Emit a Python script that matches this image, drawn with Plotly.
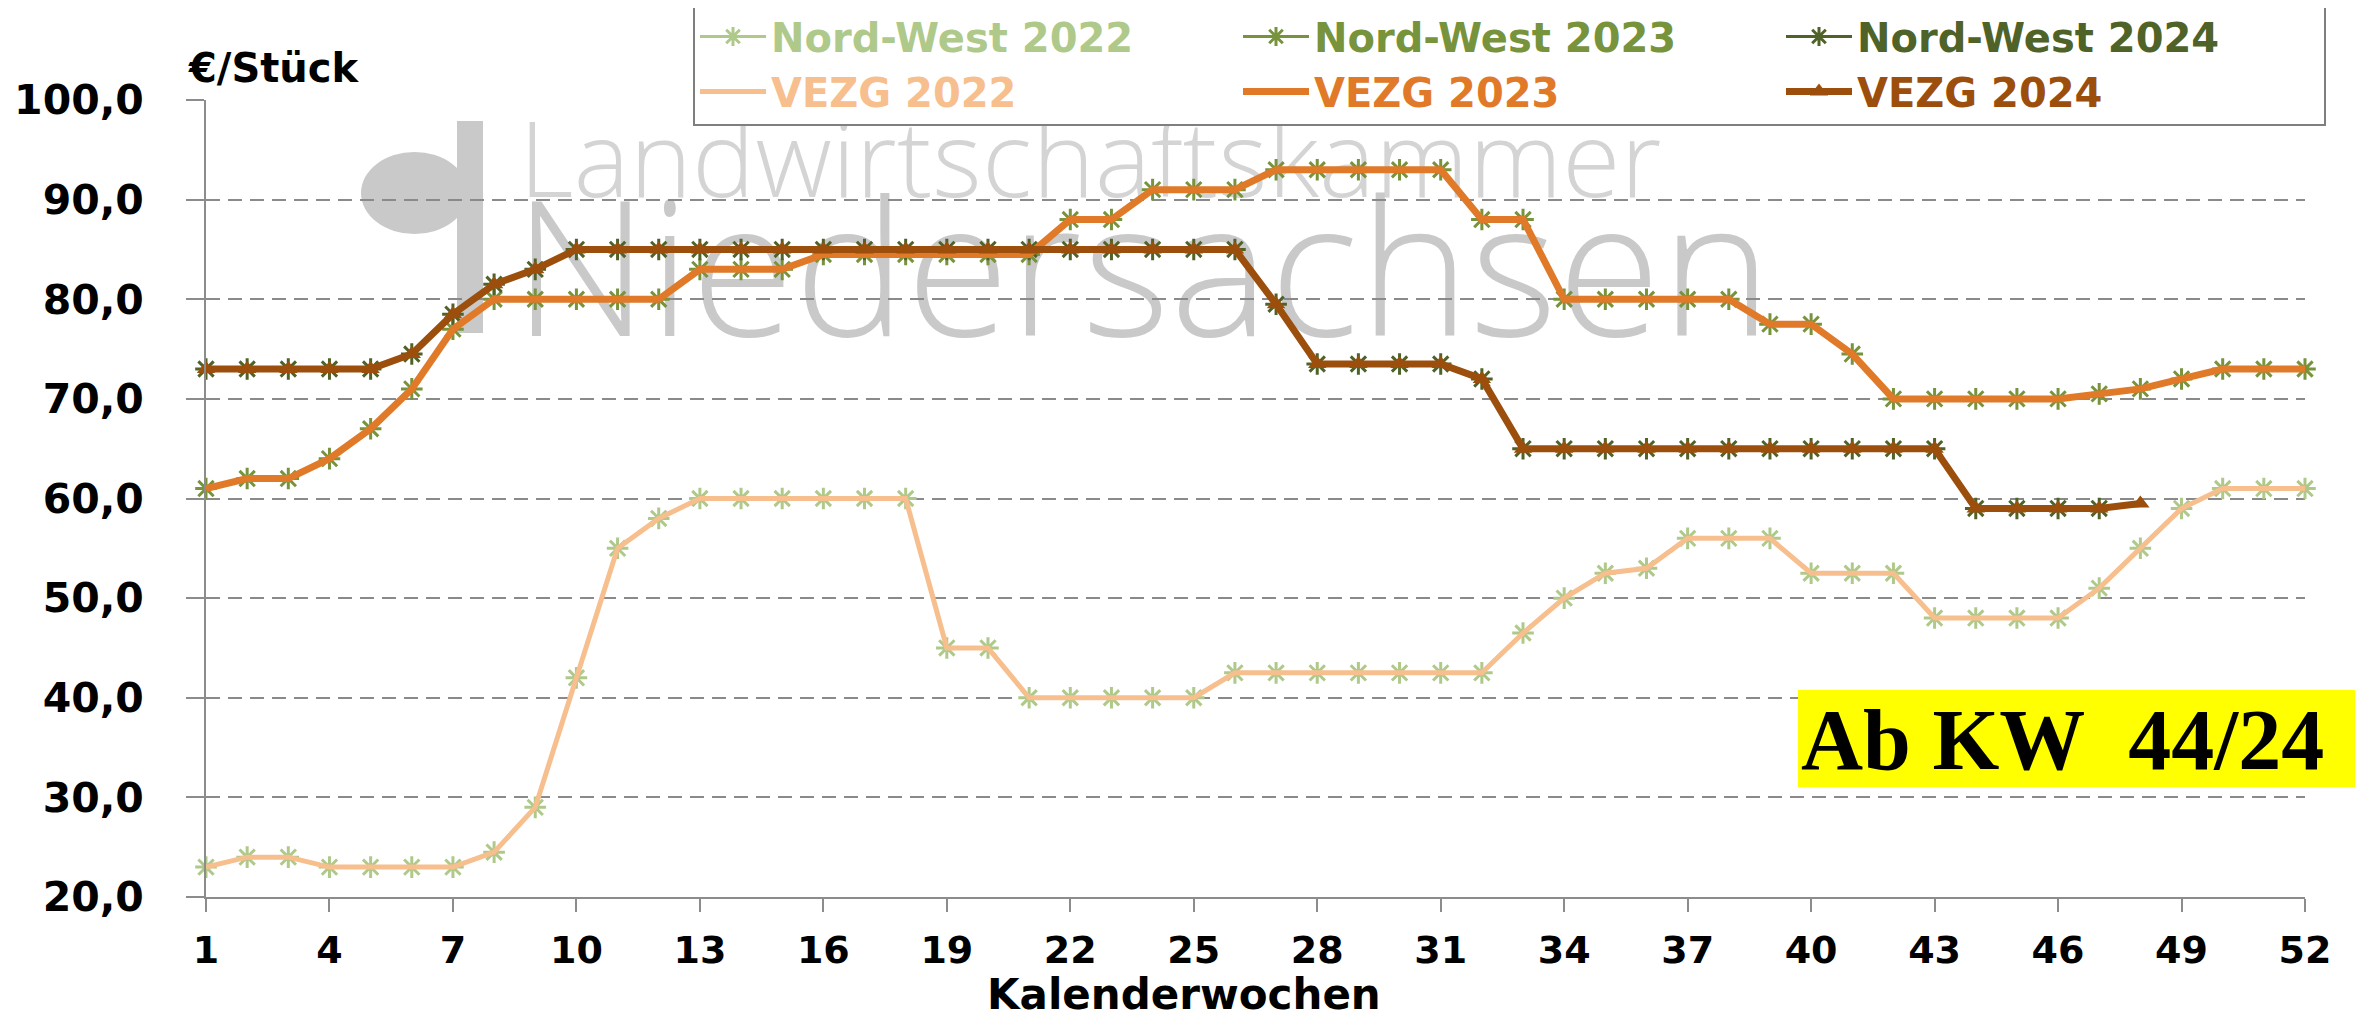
import plotly.graph_objects as go

# Kalenderwochen
weeks = list(range(1, 53))
week_ticks = list(range(1, 53, 3))
y_ticks = [20, 30, 40, 50, 60, 70, 80, 90, 100]

# Ferkelpreise in EUR/Stueck
vezg_2022 = [23, 24, 24, 23, 23, 23, 23, 24.5, 29, 42, 55, 58, 60, 60, 60, 60, 60, 60,
             45, 45, 40, 40, 40, 40, 40, 42.5, 42.5, 42.5, 42.5, 42.5, 42.5, 42.5, 46.5, 50,
             52.5, 53, 56, 56, 56, 52.5, 52.5, 52.5, 48, 48, 48, 48, 51, 55, 59, 61, 61, 61]
vezg_2023 = [61, 62, 62, 64, 67, 71, 77, 80, 80, 80, 80, 80, 83, 83, 83, 84.5, 84.5, 84.5,
             84.5, 84.5, 84.5, 88, 88, 91, 91, 91, 93, 93, 93, 93, 93, 88, 88, 80, 80, 80,
             80, 80, 77.5, 77.5, 74.5, 70, 70, 70, 70, 70, 70.5, 71, 72, 73, 73, 73]
vezg_2024 = [73, 73, 73, 73, 73, 74.5, 78.5, 81.5, 83, 85, 85, 85, 85, 85, 85, 85, 85, 85,
             85, 85, 85, 85, 85, 85, 85, 85, 79.5, 73.5, 73.5, 73.5, 73.5, 72, 65, 65, 65,
             65, 65, 65, 65, 65, 65, 65, 65, 59, 59, 59, 59, 59.5]

# Nord-West quotations (same level as VEZG)
nw_2022 = [23, 24, 24, 23, 23, 23, 23, 24.5, 29, 42, 55, 58, 60, 60, 60, 60, 60, 60,
           45, 45, 40, 40, 40, 40, 40, 42.5, 42.5, 42.5, 42.5, 42.5, 42.5, 42.5, 46.5, 50,
           52.5, 53, 56, 56, 56, 52.5, 52.5, 52.5, 48, 48, 48, 48, 51, 55, 59, 61, 61, 61]
nw_2023 = [61, 62, 62, 64, 67, 71, 77, 80, 80, 80, 80, 80, 83, 83, 83, 84.5, 84.5, 84.5,
           84.5, 84.5, 84.5, 88, 88, 91, 91, 91, 93, 93, 93, 93, 93, 88, 88, 80, 80, 80,
           80, 80, 77.5, 77.5, 74.5, 70, 70, 70, 70, 70, 70.5, 71, 72, 73, 73, 73]
nw_2024 = [73, 73, 73, 73, 73, 74.5, 78.5, 81.5, 83, 85, 85, 85, 85, 85, 85, 85, 85, 85,
           85, 85, 85, 85, 85, 85, 85, 85, 79.5, 73.5, 73.5, 73.5, 73.5, 72, 65, 65, 65,
           65, 65, 65, 65, 65, 65, 65, 65, 59, 59, 59, 59]

nw_series = [('Nord-West 2022', nw_2022, '#AFC98A'),
             ('Nord-West 2023', nw_2023, '#77933C'),
             ('Nord-West 2024', nw_2024, '#4F6228')]
vezg_series = [('VEZG 2022', vezg_2022, '#F7BE8E', 5, None),
               ('VEZG 2023', vezg_2023, '#E07A28', 7, None),
               ('VEZG 2024', vezg_2024, '#9C4F0C', 7, 'triangle-up')]

BOLD = 'DejaVu Sans'
LIGHT = 'Open Sans Light, Lato Light, Open Sans'

fig = go.Figure()

for name, vals, col in nw_series:
    fig.add_trace(go.Scatter(
        x=weeks[:len(vals)], y=vals, name=f'<span style="color:{col}">{name}</span>',
        mode='lines+markers', cliponaxis=False,
        line=dict(color=col, width=3),
        marker=dict(symbol='asterisk', size=18, line=dict(color=col, width=3)),
    ))

for name, vals, col, w, sym in vezg_series:
    fig.add_trace(go.Scatter(
        x=weeks[:len(vals)], y=vals, name=f'<span style="color:{col}">{name}</span>',
        mode='lines+markers' if sym else 'lines', cliponaxis=False,
        line=dict(color=col, width=w),
        marker=dict(symbol=sym or 'circle', size=16, color=col),
    ))

# page has an 8px body margin, so the figure is a bit smaller than the window
OFF = 8
W, H = 2363 - OFF, 1021 - OFF
L, R, T, B = 206 - OFF, 58, 100 - OFF, 124
pw, ph = W - L - R, H - T - B


# screen pixels -> paper coordinates
def px(x):
    return (x - OFF - L) / pw


def py(y):
    return (H - B - (y - OFF)) / ph


# watermark (behind the data)
wm = '#C9C9C9'
fig.add_shape(type='circle', xref='paper', yref='paper', layer='below',
              x0=px(361), x1=px(468), y0=py(234), y1=py(152),
              fillcolor=wm, line=dict(width=0))
fig.add_shape(type='rect', xref='paper', yref='paper', layer='below',
              x0=px(457), x1=px(483), y0=py(333), y1=py(121),
              fillcolor=wm, line=dict(width=0))
fig.add_shape(type='rect', xref='paper', yref='paper', layer='below',
              x0=px(516), x1=px(2200), y0=py(203), y1=py(123),
              fillcolor='rgba(0,0,0,0)', line=dict(width=0),
              label=dict(text='Landwirtschaftskammer', textposition='middle left', padding=0,
                         font=dict(family=LIGHT, size=106, color='#D4D4D4')))
fig.add_shape(type='rect', xref='paper', yref='paper', layer='below',
              x0=px(510), x1=px(2200), y0=py(340), y1=py(212),
              fillcolor='rgba(0,0,0,0)', line=dict(width=0),
              label=dict(text='Niedersachsen', textposition='middle left', padding=0,
                         font=dict(family=LIGHT, size=188, color='#C9C9C9')))

# yellow note
fig.add_shape(type='rect', xref='paper', yref='paper',
              x0=px(1798), x1=px(2370), y0=py(787), y1=py(690),
              fillcolor='#FFFF00', line=dict(width=0))
fig.add_annotation(xref='paper', yref='paper', x=px(1799), y=py(740),
                   xanchor='left', yanchor='middle', showarrow=False,
                   text='Ab KW\u00a0 44/24',
                   font=dict(family='Liberation Serif', size=86, color='black', weight='bold'))

fig.add_annotation(xref='paper', yref='paper', x=px(186), y=py(68),
                   xanchor='left', yanchor='middle', showarrow=False, text='€/Stück',
                   font=dict(family=BOLD, size=40, color='black', weight='bold'))
fig.add_annotation(xref='paper', yref='paper', x=px(1184), y=py(994),
                   xanchor='center', yanchor='middle', showarrow=False, text='Kalenderwochen',
                   font=dict(family=BOLD, size=42, color='black', weight='bold'))

fig.update_layout(
    width=W, height=H,
    margin=dict(l=L, r=R, t=T, b=B, autoexpand=False),
    paper_bgcolor='white', plot_bgcolor='rgba(0,0,0,0)',
    separators=',.',
    hovermode=False,
    showlegend=True,
    legend=dict(
        orientation='h', x=px(693), y=py(2), xanchor='left', yanchor='top',
        bgcolor='white', bordercolor='#7F7F7F', borderwidth=2,
        font=dict(family=BOLD, size=40, weight='bold'),
        itemwidth=66, entrywidth=462, traceorder='normal',
    ),
)

fig.update_xaxes(
    range=[1, 52], tickvals=week_ticks, showgrid=False, zeroline=False,
    showline=True, linecolor='#8C8C8C', linewidth=2,
    ticks='outside', ticklen=13, tickwidth=2, tickcolor='#8C8C8C',
    tickfont=dict(family=BOLD, size=38, color='black', weight='bold'),
    ticklabelstandoff=5,
)
fig.update_yaxes(
    range=[20, 100], tickvals=y_ticks, tickformat='.1f', zeroline=False,
    showline=True, linecolor='#8C8C8C', linewidth=2,
    showgrid=True, gridcolor='#8A8A8A', gridwidth=2, griddash='14px,8px',
    ticks='outside', ticklen=18, tickwidth=2, tickcolor='#8C8C8C',
    tickfont=dict(family=BOLD, size=41, color='black', weight='bold'),
    ticklabelstandoff=34,
)

fig.write_html('out.html')
